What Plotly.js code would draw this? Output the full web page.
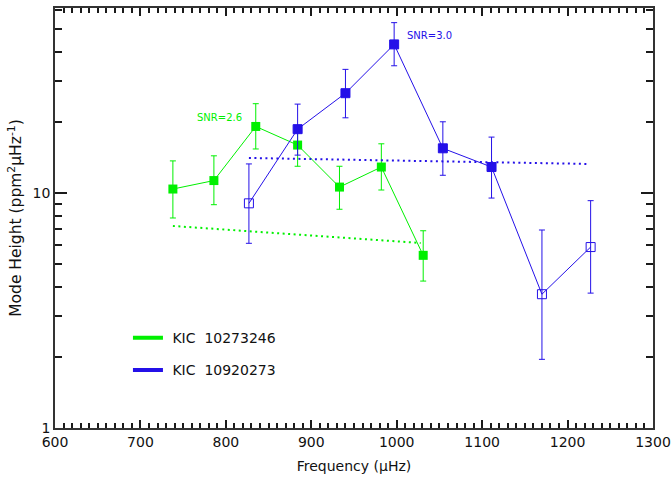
<!DOCTYPE html>
<html>
<head>
<meta charset="utf-8">
<script src="https://cdn.plot.ly/plotly-3.0.1.min.js"></script>
<style>html,body{margin:0;padding:0;background:#fff;}#chart{width:672px;height:479px;}</style>
</head>
<body>
<div id="chart"></div>
<script>
// ---- Data ----
const greenName = "KIC  10273246";
const greenFreq = [738, 786, 835, 884, 933, 982, 1031];
const greenH    = [10.4, 11.3, 19.2, 16.0, 10.6, 12.9, 5.43];
const greenHi   = [13.7, 14.4, 24.0, 19.3, 13.0, 16.2, 6.91];
const greenLo   = [7.83, 8.92, 15.4, 13.0, 8.53, 10.3, 4.22];
const greenBgFreq = [738, 1028];
const greenBg     = [7.24, 6.13];

const blueName = "KIC  10920273";
const blueFreq = [827, 884, 940, 997, 1054, 1111, 1170, 1227];
const blueH    = [9.04, 18.7, 26.6, 42.9, 15.5, 12.9, 3.71, 5.89];
const blueHi   = [13.3, 23.9, 33.6, 53.1, 20.1, 17.3, 6.96, 9.28];
const blueLo   = [6.11, 14.5, 20.9, 34.8, 11.9, 9.52, 1.96, 3.75];
const blueFilled = [false, true, true, true, true, true, false, false];
const blueBgFreq = [827, 1223];
const blueBg     = [14.1, 13.3];

const snrLabels = ["SNR=2.6", "SNR=3.0"];

const xRange = [600, 1300];
const yMax = 61.3;
const yTickVals = [1, 10];
const yTickText = ["1", "10"];
const yMinorVals = [2, 3, 4, 5, 6, 7, 8, 9, 20, 30, 40, 50, 60];

// ---- Styling ----
const GREEN = "#00f000";
const BLUE = "#2410e8";
const FONT = "DejaVu Sans, Verdana, sans-serif";
const TXT = "#111";
const TICKC = "#1a1a1a";

const hiErr = (hi, v) => hi.map((h, i) => h - v[i]);
const loErr = (lo, v) => lo.map((l, i) => v[i] - l);

const traces = [
  {x: greenBgFreq, y: greenBg, mode: "lines", showlegend: false, hoverinfo: "skip",
   line: {color: GREEN, width: 2, dash: "2px,3.5px"}},
  {x: greenFreq, y: greenH, mode: "lines+markers", showlegend: false,
   line: {color: GREEN, width: 1},
   marker: {symbol: "square", size: 9, color: GREEN, line: {width: 0}},
   error_y: {type: "data", symmetric: false, array: hiErr(greenHi, greenH),
             arrayminus: loErr(greenLo, greenH), color: GREEN, thickness: 1, width: 3}},
  {x: blueBgFreq, y: blueBg, mode: "lines", showlegend: false, hoverinfo: "skip",
   line: {color: BLUE, width: 2, dash: "2px,3.5px"}},
  {x: blueFreq, y: blueH, mode: "lines+markers", showlegend: false,
   line: {color: BLUE, width: 1},
   marker: {symbol: blueFilled.map(f => f ? "square" : "square-open"), size: 9,
            color: BLUE, line: {color: BLUE, width: 1}},
   error_y: {type: "data", symmetric: false, array: hiErr(blueHi, blueH),
             arrayminus: loErr(blueLo, blueH), color: BLUE, thickness: 1, width: 3}},
  {x: [null], y: [null], mode: "lines", name: "\u00a0" + greenName, legendgroup: "g",
   line: {color: GREEN, width: 4}},
  {x: [null], y: [null], mode: "lines", name: "\u00a0" + blueName, legendgroup: "b",
   line: {color: BLUE, width: 4}}
];

const tickFont = {family: FONT, size: 14, color: TXT};

const layout = {
  width: 672, height: 479,
  margin: {l: 55, r: 19, t: 8, b: 51},
  font: {family: FONT, size: 14, color: TXT},
  showlegend: true,
  legend: {x: 0.122, y: 0.252, xanchor: "left", yanchor: "top",
           bgcolor: "rgba(0,0,0,0)", font: {family: FONT, size: 14, color: TXT},
           traceorder: "grouped", tracegroupgap: 11, itemwidth: 30},
  xaxis: {
    range: xRange, ticks: "inside", ticklen: 8, tickwidth: 2, tickcolor: TICKC,
    showline: true, linecolor: "#333", linewidth: 1.5, mirror: "allticks",
    minor: {ticks: "inside", ticklen: 5, tickwidth: 1.6, tickcolor: TICKC, dtick: 10},
    showgrid: false, tickfont: tickFont,
    title: {text: "Frequency (μHz)", font: {family: FONT, size: 14, color: TXT}, standoff: 13}
  },
  yaxis: {
    type: "log", range: [0, Math.log10(yMax)],
    tickmode: "array", tickvals: yTickVals, ticktext: yTickText,
    ticks: "inside", ticklen: 12, tickwidth: 2, tickcolor: TICKC,
    showline: true, linecolor: "#333", linewidth: 1.5, mirror: "allticks",
    minor: {tickmode: "array", tickvals: yMinorVals, ticks: "inside", ticklen: 7, tickwidth: 1.6, tickcolor: TICKC},
    showgrid: false, tickfont: tickFont,
    title: {text: "Mode Height (ppm<sup>2</sup>μHz<sup>-1</sup>)", font: {family: FONT, size: 15.5, color: TXT}, standoff: 7}
  },
  annotations: [
    {x: greenFreq[2], y: Math.log10(greenH[2]), text: snrLabels[0], showarrow: false,
     xshift: -36, yshift: 9, font: {family: FONT, size: 10, color: GREEN}},
    {x: blueFreq[3], y: Math.log10(blueH[3]), text: snrLabels[1], showarrow: false,
     xshift: 35, yshift: 9, font: {family: FONT, size: 10, color: BLUE}}
  ]
};

Plotly.newPlot("chart", traces, layout, {displayModeBar: false});
</script>
</body>
</html>
